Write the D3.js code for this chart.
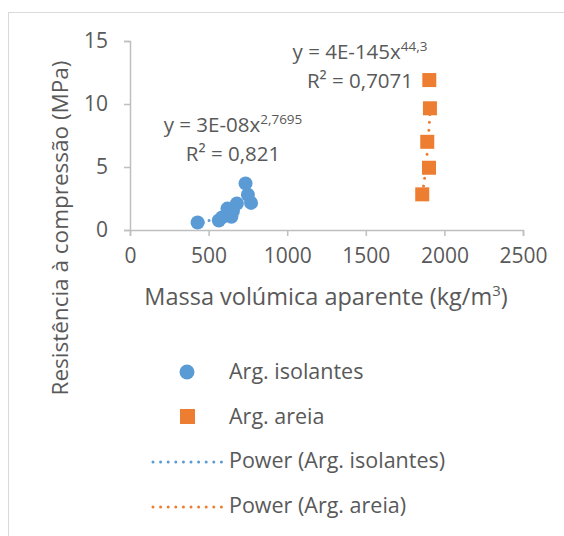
<!DOCTYPE html>
<html>
<head>
<meta charset="utf-8">
<script src="https://cdn.jsdelivr.net/npm/d3@7"></script>
<style>
  body { margin: 0; background: #fff; }
  text { font-family: "Open Sans", sans-serif; fill: #595959; }
</style>
</head>
<body>
<svg id="chart" width="564" height="536"></svg>
<script>
// Arg. isolantes (circles)
const isoX = [430, 565, 585, 645, 620, 655, 680, 735, 750, 770];
const isoY = [0.6, 0.75, 1.0, 1.05, 1.7, 1.5, 2.1, 3.7, 2.8, 2.15];
// Arg. areia (squares)
const areiaX = [1904, 1908, 1891, 1902, 1859];
const areiaY = [11.9, 9.66, 7.0, 4.94, 2.83];

const xTicks = [0, 500, 1000, 1500, 2000, 2500];
const yTicks = [0, 5, 10, 15];
const seriesNames = ["Arg. isolantes", "Arg. areia"];
const eqIso = ["y = 3E-08x", "2,7695", "R² = 0,821"];
const eqAreia = ["y = 4E-145x", "44,3", "R² = 0,7071"];

const BLUE = "#5b9bd5", ORANGE = "#ed7d31", AXIS = "#bfbfbf";

const svg = d3.select("#chart");

// outer chart frame (runs past the picture on right/bottom)
svg.append("rect")
  .attr("x", 8.5).attr("y", 12.5)
  .attr("width", 700).attr("height", 700)
  .attr("fill", "none").attr("stroke", "#d9d9d9");

const x = d3.scaleLinear().domain([0, 2500]).range([130, 523]);
const y = d3.scaleLinear().domain([0, 15]).range([230, 41]);

// axes
const xAxis = svg.append("g").attr("transform", `translate(0,${y(0)})`)
  .call(d3.axisBottom(x).tickValues(xTicks).tickFormat(d3.format("d")).tickSize(6).tickPadding(12));
const yAxis = svg.append("g").attr("transform", `translate(${x(0)},0)`)
  .call(d3.axisLeft(y).tickValues(yTicks).tickFormat(d3.format("d")).tickSize(6).tickPadding(16));
[xAxis, yAxis].forEach(a => {
  a.selectAll("path").attr("stroke", AXIS).attr("stroke-width", 1.5);
  a.selectAll("line").attr("stroke", AXIS).attr("stroke-width", 1.5);
  a.selectAll("text").style("font-size", "21px").attr("fill", "#595959");
});

// power trendline fitted in log-log space
function powerFit(xs, ys) {
  const lx = xs.map(Math.log), ly = ys.map(Math.log);
  const mx = d3.mean(lx), my = d3.mean(ly);
  const b = d3.sum(lx, (v, i) => (v - mx) * (ly[i] - my)) / d3.sum(lx, v => (v - mx) ** 2);
  const a = Math.exp(my - b * mx);
  const [x0, x1] = d3.extent(xs);
  return d3.range(0, 41).map(i => {
    const xv = x0 + (x1 - x0) * i / 40;
    return [xv, a * Math.pow(xv, b)];
  });
}
const line = d3.line().x(d => x(d[0])).y(d => y(d[1]));

svg.append("path").datum(powerFit(isoX, isoY))
  .attr("d", line).attr("fill", "none").attr("stroke", BLUE)
  .attr("stroke-width", 3).attr("stroke-linecap", "round").attr("stroke-dasharray", "0 6");

svg.append("g").selectAll("circle")
  .data(isoX.map((v, i) => [v, isoY[i]]))
  .join("circle")
  .attr("cx", d => x(d[0])).attr("cy", d => y(d[1]))
  .attr("r", 7).attr("fill", BLUE);

svg.append("path").datum(powerFit(areiaX, areiaY))
  .attr("d", line).attr("fill", "none").attr("stroke", ORANGE)
  .attr("stroke-width", 3).attr("stroke-linecap", "round").attr("stroke-dasharray", "0 8");

svg.append("g").selectAll("rect")
  .data(areiaX.map((v, i) => [v, areiaY[i]]))
  .join("rect")
  .attr("x", d => x(d[0]) - 7).attr("y", d => y(d[1]) - 7)
  .attr("width", 14).attr("height", 14).attr("fill", ORANGE);

// trendline equations
function equation(cx, by, eq) {
  const t = svg.append("text").attr("x", cx).attr("y", by)
    .attr("text-anchor", "middle").style("font-size", "20.5px");
  t.append("tspan").text(eq[0]);
  t.append("tspan").attr("dy", -8).style("font-size", "13.5px").text(eq[1]);
  svg.append("text").attr("x", cx).attr("y", by + 29)
    .attr("text-anchor", "middle").style("font-size", "20.5px").text(eq[2]);
}
equation(360, 59, eqAreia);
equation(233, 132, eqIso);

// axis titles
const xt = svg.append("text").attr("x", 326).attr("y", 305)
  .attr("text-anchor", "middle").style("font-size", "23.5px");
xt.append("tspan").text("Massa volúmica aparente (kg/m");
xt.append("tspan").attr("dy", -9).style("font-size", "15px").text("3");
xt.append("tspan").attr("dy", 9).text(")");

svg.append("text")
  .attr("transform", "translate(68,228) rotate(-90)")
  .attr("text-anchor", "middle").style("font-size", "22.5px")
  .text("Resistência à compressão (MPa)");

// legend
const lg = svg.append("g");
const rows = [379, 424, 468, 513];
lg.append("circle").attr("cx", 187).attr("cy", rows[0] - 7).attr("r", 7.5).attr("fill", BLUE);
lg.append("rect").attr("x", 180).attr("y", rows[1] - 15).attr("width", 15).attr("height", 15).attr("fill", ORANGE);
[BLUE, ORANGE].forEach((c, i) => {
  lg.append("line").attr("x1", 153).attr("x2", 222)
    .attr("y1", rows[2 + i] - 6).attr("y2", rows[2 + i] - 6)
    .attr("stroke", c).attr("stroke-width", 3)
    .attr("stroke-linecap", "round").attr("stroke-dasharray", "0 7.6");
});
const labels = [seriesNames[0], seriesNames[1], `Power (${seriesNames[0]})`, `Power (${seriesNames[1]})`];
lg.selectAll("text.lab").data(labels).join("text").attr("class", "lab")
  .attr("x", 229).attr("y", (d, i) => rows[i])
  .style("font-size", "21.5px").text(d => d);
</script>
</body>
</html>
